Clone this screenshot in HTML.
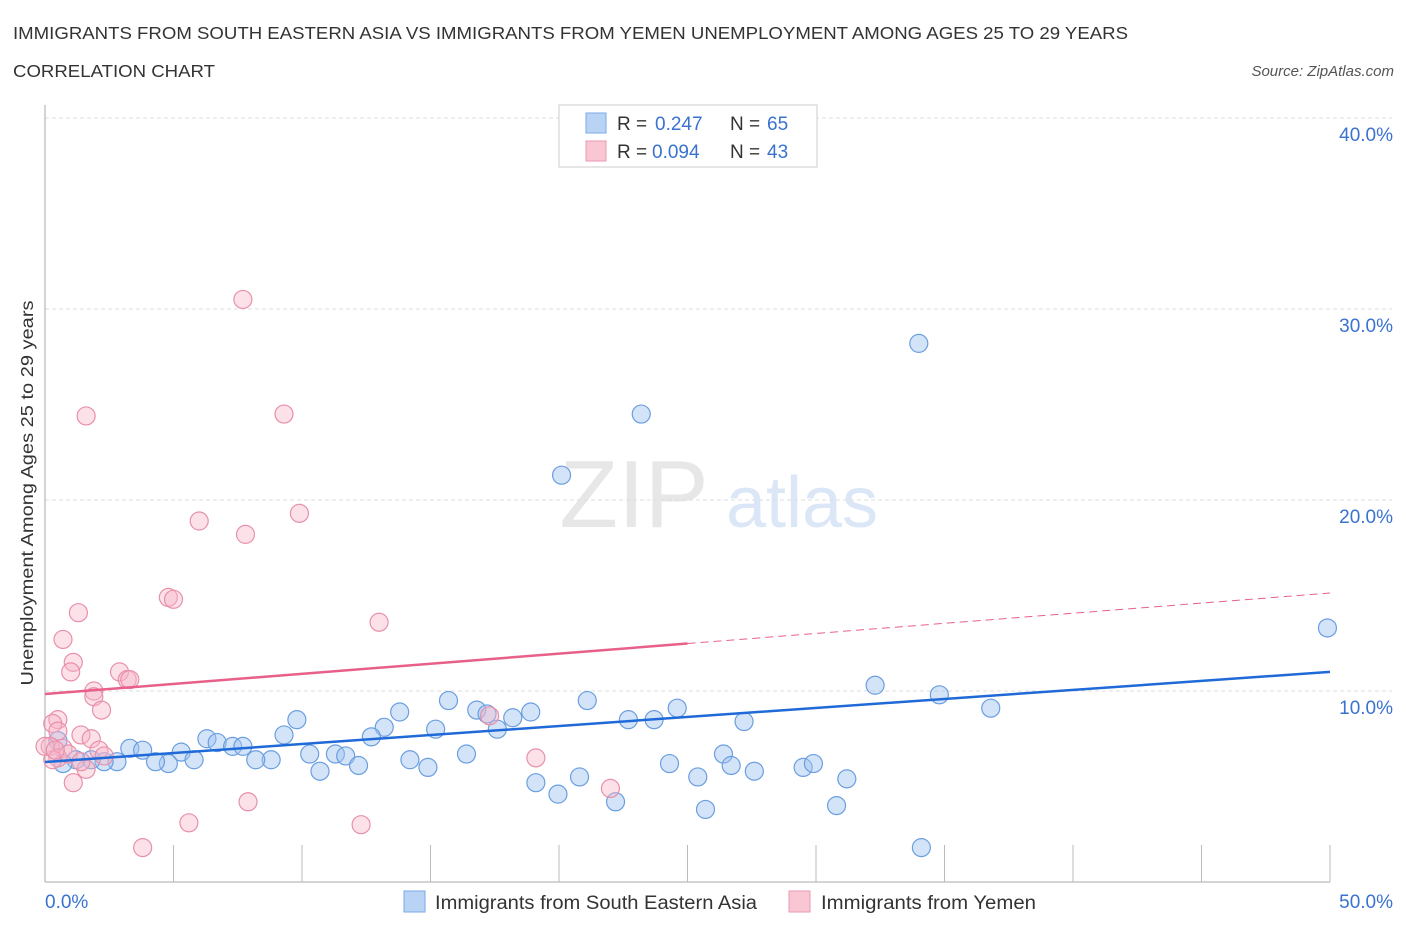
<!DOCTYPE html>
<html><head><meta charset="utf-8"><style>
body{margin:0;background:#fff;font-family:"Liberation Sans",sans-serif;}
svg text{font-family:"Liberation Sans",sans-serif;}
</style></head><body>
<svg id="chart" width="1406" height="930" xmlns="http://www.w3.org/2000/svg">
<text x="13" y="39" font-size="17.5" fill="#333" textLength="1115" lengthAdjust="spacingAndGlyphs">IMMIGRANTS FROM SOUTH EASTERN ASIA VS IMMIGRANTS FROM YEMEN UNEMPLOYMENT AMONG AGES 25 TO 29 YEARS</text>
<text x="13" y="77" font-size="17.5" fill="#333" textLength="202" lengthAdjust="spacingAndGlyphs">CORRELATION CHART</text>
<text x="1394" y="76" font-size="15" fill="#555" text-anchor="end" font-style="italic">Source: ZipAtlas.com</text>
<text transform="translate(33,493) rotate(-90)" font-size="17.5" fill="#333" text-anchor="middle" textLength="385" lengthAdjust="spacingAndGlyphs">Unemployment Among Ages 25 to 29 years</text>
<g opacity="0.35">
<text x="634" y="527" font-size="96" font-family="Liberation Serif" fill="#bbb" text-anchor="middle">ZIP</text>
<text x="802" y="527" font-size="72" fill="#9bbde8" text-anchor="middle">atlas</text>
</g>
<g id="grid"></g><g id="axes"></g><g id="marks"></g>
<g>
<rect x="559" y="105" width="258" height="62" fill="#fff" stroke="#ccc"/>
<rect x="586" y="113" width="20" height="20" fill="#b9d3f5" stroke="#7aa8e6"/>
<text x="617" y="130" font-size="19" fill="#333">R =</text>
<text x="655" y="130" font-size="19" fill="#3a72d0">0.247</text>
<text x="730" y="130" font-size="19" fill="#333">N =</text>
<text x="767" y="130" font-size="19" fill="#3a72d0">65</text>
<rect x="586" y="141" width="20" height="20" fill="#f9c6d4" stroke="#ea9ab3"/>
<text x="617" y="158" font-size="19" fill="#333">R =</text>
<text x="652" y="158" font-size="19" fill="#3a72d0">0.094</text>
<text x="730" y="158" font-size="19" fill="#333">N =</text>
<text x="767" y="158" font-size="19" fill="#3a72d0">43</text>
</g>
<g>
<rect x="404" y="891" width="21" height="21" fill="#b9d3f5" stroke="#7aa8e6"/>
<text x="435" y="909" font-size="19" fill="#333" textLength="322" lengthAdjust="spacingAndGlyphs">Immigrants from South Eastern Asia</text>
<rect x="789" y="891" width="21" height="21" fill="#f9c6d4" stroke="#ea9ab3"/>
<text x="821" y="909" font-size="19" fill="#333" textLength="215" lengthAdjust="spacingAndGlyphs">Immigrants from Yemen</text>
</g>
</svg>
<script>
const yTicks=[10,20,30,40];
const yTickLabels=["10.0%","20.0%","30.0%","40.0%"];
const xTickLabels=["0.0%","50.0%"];
const blueX=[34.0,23.2,20.1,49.9,32.3,34.8,36.8,15.7,21.1,24.6,16.8,17.2,18.9,18.2,13.8,9.8,22.7,23.7,27.2,15.2,17.6,13.2,12.7,9.3,6.3,6.7,7.3,7.7,3.3,3.8,5.3,11.3,11.7,10.3,14.2,16.4,26.4,24.3,26.7,27.6,25.4,20.8,29.5,29.9,31.2,19.1,19.96,22.2,30.8,25.7,34.1,10.7,12.2,14.9,8.8,8.2,5.8,4.8,4.3,2.8,2.3,1.8,1.2,0.7,0.5];
const blueY=[28.2,24.5,21.3,13.3,10.3,9.8,9.1,9.5,9.5,9.1,9.0,8.8,8.9,8.6,8.9,8.5,8.5,8.5,8.4,8.0,8.0,8.1,7.6,7.7,7.5,7.3,7.1,7.1,7.0,6.9,6.8,6.7,6.6,6.7,6.4,6.7,6.7,6.2,6.1,5.8,5.5,5.5,6.0,6.2,5.4,5.2,4.6,4.2,4.0,3.8,1.8,5.8,6.1,6.0,6.4,6.4,6.4,6.2,6.3,6.3,6.3,6.4,6.4,6.2,7.4];
const pinkX=[7.7,1.6,9.3,9.9,6.0,7.8,4.8,5.0,1.3,13.0,0.7,1.1,1.0,2.9,3.2,3.3,1.9,1.9,2.2,17.3,0.5,0.3,0.5,1.4,1.8,0.2,0.7,2.1,2.3,0.5,1.6,1.1,19.1,22.0,7.9,5.6,12.3,3.8,0.3,0.9,0.0,0.4,1.4];
const pinkY=[30.5,24.4,24.5,19.3,18.9,18.2,14.9,14.8,14.1,13.6,12.7,11.5,11.0,11.0,10.6,10.6,10.0,9.7,9.0,8.7,8.5,8.3,7.9,7.7,7.5,7.1,7.0,6.9,6.6,6.5,5.9,5.2,6.5,4.9,4.2,3.1,3.0,1.8,6.4,6.7,7.1,6.9,6.3];
const blueTrend=[6.28,11.0];
const pinkTrend=[9.84,15.13];
const pinkSolidEnd=25.0;
const X=v=>45+v*25.7, Y=v=>882-v*19.1;
const NS="http://www.w3.org/2000/svg";
function mk(tag,attrs,parent){const e=document.createElementNS(NS,tag);for(const k in attrs)e.setAttribute(k,attrs[k]);document.getElementById(parent).appendChild(e);return e;}
yTicks.forEach((t,i)=>{
 const g=mk('line',{x1:45,x2:1392,y1:Y(t),y2:Y(t),stroke:'#ddd','stroke-dasharray':'4,3'},'grid');
 
 
 const tx=mk('text',{x:1393,y:Y(t)+23,'font-size':19,fill:'#3a72d0','text-anchor':'end'},'axes');
 tx.textContent=yTickLabels[i];
 
 
});
let a=mk('line',{x1:45,x2:45,y1:105,y2:882,stroke:'#aaa'},'axes');


a=mk('line',{x1:45,x2:1330,y1:882,y2:882,stroke:'#aaa'},'axes');


for(let i=1;i<=10;i++){const t=mk('line',{x1:X(i*5),x2:X(i*5),y1:845,y2:882,stroke:'#bbb'},'axes');
 
 }
[[0,'start',45],[50,'end',1393]].forEach((d,i)=>{const t=mk('text',{x:d[2],y:908,'font-size':19,fill:'#3a72d0','text-anchor':d[1]},'axes');t.textContent=xTickLabels[i];
 
 });
blueX.forEach((v,i)=>{const c=mk('circle',{cx:X(v),cy:Y(blueY[i]),r:9,fill:'rgba(160,196,240,0.45)',stroke:'#6a9ee0','stroke-width':1.2},'marks');
 
 });
pinkX.forEach((v,i)=>{const c=mk('circle',{cx:X(v),cy:Y(pinkY[i]),r:9,fill:'rgba(248,180,200,0.4)',stroke:'#e890aa','stroke-width':1.2},'marks');
 
 });
const pAt=x=>pinkTrend[0]+(pinkTrend[1]-pinkTrend[0])*x/50;
let l=mk('line',{x1:X(0),y1:Y(pinkTrend[0]),x2:X(pinkSolidEnd),y2:Y(pAt(pinkSolidEnd)),stroke:'#e8608a','stroke-width':2.5},'marks');


l=mk('line',{x1:X(pinkSolidEnd),y1:Y(pAt(pinkSolidEnd)),x2:X(50),y2:Y(pinkTrend[1]),stroke:'#e8608a','stroke-width':1,'stroke-dasharray':'8,5'},'marks');


l=mk('line',{x1:X(0),y1:Y(blueTrend[0]),x2:X(50),y2:Y(blueTrend[1]),stroke:'#1f6ad8','stroke-width':2.5},'marks');


</script>
</body></html>
